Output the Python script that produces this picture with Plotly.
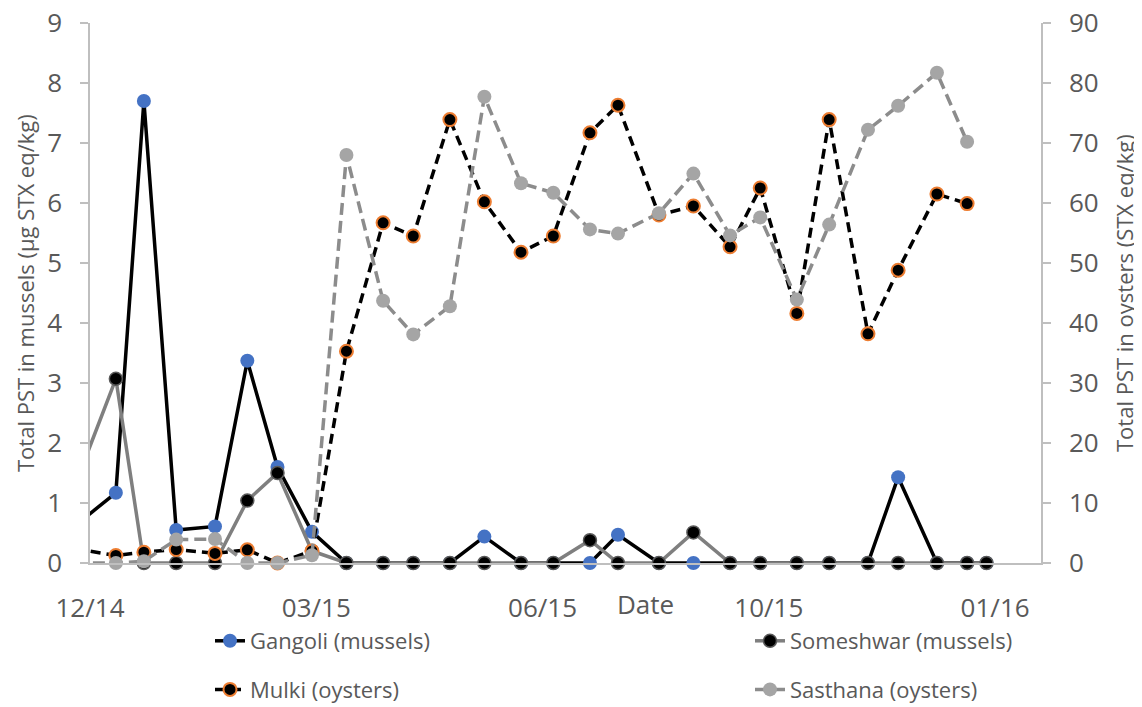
import plotly.graph_objects as go

# ---------------- data ----------------
mussel_dates = ["2014-11-24", "2014-12-13", "2014-12-26", "2015-01-10", "2015-01-28",
                "2015-02-12", "2015-02-26", "2015-03-14", "2015-03-30", "2015-04-16",
                "2015-04-30", "2015-05-17", "2015-06-02", "2015-06-19", "2015-07-04",
                "2015-07-21", "2015-08-03", "2015-08-22", "2015-09-07", "2015-09-24",
                "2015-10-08", "2015-10-25", "2015-11-09", "2015-11-27", "2015-12-11",
                "2015-12-29", "2016-01-12", "2016-01-21"]
oyster_dates = mussel_dates[:27]

gangoli = [0.62, 1.17, 7.7, 0.55, 0.61, 3.37, 1.6, 0.52, 0, 0, 0, 0, 0.44, 0, 0,
           0, 0.47, 0, 0, 0, 0, 0, 0, 0, 1.43, 0, 0, 0]
someshwar = [1.29, 3.07, 0, 0, 0, 1.04, 1.5, 0.2, 0, 0, 0, 0, 0, 0, 0,
             0.38, 0, 0, 0.51, 0, 0, 0, 0, 0, 0, 0, 0, 0]
mulki = [2.4, 1.25, 1.8, 2.25, 1.6, 2.2, 0, 2.0, 35.3, 56.7, 54.5, 73.9, 60.2, 51.8,
         54.5, 71.7, 76.3, 58.0, 59.5, 52.7, 62.5, 41.6, 73.9, 38.2, 48.8, 61.5, 59.9]
sasthana = [0, 0, 0.3, 3.9, 4.0, 0, 0, 1.3, 68.0, 43.7, 38.1, 42.8, 77.7, 63.3,
            61.7, 55.6, 54.9, 58.3, 64.9, 54.6, 57.6, 43.9, 56.4, 72.2, 76.2, 81.7, 70.2]

tick_dates = ["2014-12-01", "2015-03-16", "2015-06-29", "2015-10-12", "2016-01-25"]
tick_labels = ["12/14", "03/15", "06/15", "10/15", "01/16"]
x_range = ["2014-12-01", "2016-02-15 07:00"]

FONT = "Open Sans"
TXT = "#595959"
AX = "#BFBFBF"

fig = go.Figure()
fig.add_trace(go.Scatter(
    x=mussel_dates, y=gangoli, name="Gangoli (mussels)", mode="lines+markers",
    line=dict(color="black", width=3.5),
    marker=dict(color="#4472C4", size=14), cliponaxis=False,
    legend="legend", legendgroup="g1"))
fig.add_trace(go.Scatter(
    x=mussel_dates, y=someshwar, name="Someshwar (mussels)", mode="lines+markers",
    line=dict(color="#7F7F7F", width=3.5),
    marker=dict(color="black", size=13, line=dict(color="#595959", width=1.5)),
    cliponaxis=False, legend="legend2", legendgroup="g2"))
fig.add_trace(go.Scatter(
    x=oyster_dates, y=mulki, name="Mulki (oysters)", mode="lines+markers", yaxis="y2",
    line=dict(color="black", width=3.5, dash="10px,6px"),
    marker=dict(color="black", size=13, line=dict(color="#ED7D31", width=2)),
    cliponaxis=False, legend="legend", legendgroup="g3"))
fig.add_trace(go.Scatter(
    x=oyster_dates, y=sasthana, name="Sasthana (oysters)", mode="lines+markers", yaxis="y2",
    line=dict(color="#8C8C8C", width=3.5, dash="12px,6px"),
    marker=dict(color="#A5A5A5", size=14),
    cliponaxis=False, legend="legend2", legendgroup="g4"))

# page body has an 8px margin; the figure is sized to fill the rest of the window
OFF = 8
W, H = 1142 - OFF, 707 - OFF
PL, PR, PT, PB = 90, 1041, 23, 563   # plot-area edges in page pixels
L, R, T, B = PL - OFF, W - (PR - OFF), PT - OFF, H - (PB - OFF)
pw = W - L - R
ph = H - T - B

def px2x(px):
    return (px - OFF - L) / pw

def py2y(py):
    return (H - B - (py - OFF)) / ph

fig.update_layout(
    width=W, height=H,
    margin=dict(l=L, r=R, t=T, b=B, autoexpand=False),
    plot_bgcolor="white", paper_bgcolor="white",
    font=dict(family=FONT, color=TXT, size=26),
    showlegend=True,
    xaxis=dict(
        type="date", range=x_range, tickvals=tick_dates, ticktext=tick_labels,
        showgrid=False, zeroline=False, showline=True, linecolor=AX, linewidth=1.5,
        ticks="", ticklabelstandoff=21, tickfont=dict(size=26, color=TXT),
        automargin=False, ticklabeloverflow="allow",
    ),
    yaxis=dict(
        range=[0, 9], dtick=1, showgrid=False, zeroline=False, showline=True,
        linecolor=AX, linewidth=1.5, ticks="outside", ticklen=8, tickcolor=AX,
        tickwidth=1.5, ticklabelstandoff=13, tickfont=dict(size=26, color=TXT),
        automargin=False, ticklabeloverflow="allow",
    ),
    yaxis2=dict(
        range=[0, 90], dtick=10, overlaying="y", side="right", showgrid=False,
        zeroline=False, showline=True, linecolor=AX, linewidth=1.5, ticks="outside",
        ticklen=8, tickcolor=AX, tickwidth=1.5, ticklabelstandoff=13,
        tickfont=dict(size=26, color=TXT), automargin=False,
        ticklabeloverflow="allow",
    ),
    legend=dict(x=px2x(210), y=py2y(620), xanchor="left", yanchor="top",
                font=dict(size=22, color=TXT), tracegroupgap=17,
                traceorder="grouped", bgcolor="rgba(0,0,0,0)"),
    legend2=dict(x=px2x(750), y=py2y(620), xanchor="left", yanchor="top",
                 font=dict(size=22, color=TXT), tracegroupgap=17,
                 traceorder="grouped", bgcolor="rgba(0,0,0,0)"),
    annotations=[
        dict(text="Total PST in mussels (µg STX eq/kg)", textangle=-90,
             xref="paper", yref="paper", x=px2x(25), y=0.5, showarrow=False,
             xanchor="center", yanchor="middle", font=dict(size=22, color=TXT)),
        dict(text="Total PST in oysters (STX eq/kg)", textangle=-90,
             xref="paper", yref="paper", x=px2x(1124), y=0.5, showarrow=False,
             xanchor="center", yanchor="middle", font=dict(size=22, color=TXT)),
        dict(text="Date", xref="paper", yref="paper", x=px2x(645), y=py2y(604),
             showarrow=False, xanchor="center", yanchor="middle",
             font=dict(size=26, color=TXT)),
    ],
)

fig.write_html("out.html")
